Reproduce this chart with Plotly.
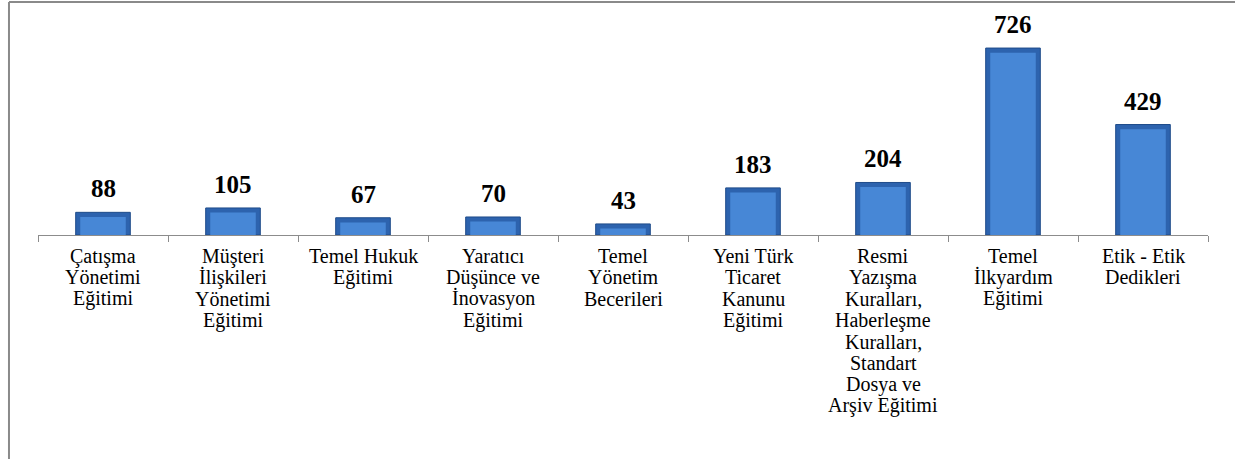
import plotly.graph_objects as go

categories = [
    "Çatışma<br>Yönetimi<br>Eğitimi",
    "Müşteri<br>İlişkileri<br>Yönetimi<br>Eğitimi",
    "Temel Hukuk<br>Eğitimi",
    "Yaratıcı<br>Düşünce ve<br>İnovasyon<br>Eğitimi",
    "Temel<br>Yönetim<br>Becerileri",
    "Yeni Türk<br>Ticaret<br>Kanunu<br>Eğitimi",
    "Resmi<br>Yazışma<br>Kuralları,<br>Haberleşme<br>Kuralları,<br>Standart<br>Dosya ve<br>Arşiv Eğitimi",
    "Temel<br>İlkyardım<br>Eğitimi",
    "Etik - Etik<br>Dedikleri",
]
values = [88, 105, 67, 70, 43, 183, 204, 726, 429]

# lighter inner face of each bar (bevel look)
bevel = 18
inner = [max(v - bevel, v * 0.55) for v in values]

fig = go.Figure()
fig.add_trace(go.Bar(
    x=categories, y=values, width=0.42,
    marker=dict(color="#2D63AE", line=dict(color="#1F4C8A", width=1)),
    hoverinfo="skip",
))
fig.add_trace(go.Bar(
    x=categories, y=inner, width=0.35,
    marker=dict(color="#4787D6", line=dict(width=0)),
    hoverinfo="skip",
))

for c, v in zip(categories, values):
    fig.add_annotation(
        x=c, y=v, text=f"<b>{v}</b>", showarrow=False,
        yanchor="bottom", yshift=8,
        font=dict(family="Liberation Serif", size=25, color="black"),
    )

# category labels, one line at a time for tighter line spacing
for c in categories:
    for i, line in enumerate(c.split("<br>")):
        fig.add_annotation(
            x=c, xref="x", y=0, yref="paper", text=line, showarrow=False,
            yanchor="middle", yshift=-(21 + i * 21.4),
            font=dict(family="Liberation Serif", size=20, color="black"),
        )

# chart frame (left and top edges)
fig.add_shape(type="line", xref="paper", yref="paper",
              x0=-0.0248, x1=-0.0248, y0=-1.2, y1=1.131,
              line=dict(color="#8A8A8A", width=2))
fig.add_shape(type="line", xref="paper", yref="paper",
              x0=-0.0248, x1=1.03, y0=1.131, y1=1.131,
              line=dict(color="#8A8A8A", width=2))

fig.update_layout(
    width=1235, height=459,
    margin=dict(l=38, r=27, t=29, b=224),
    plot_bgcolor="white", paper_bgcolor="white",
    barmode="overlay", showlegend=False,
    font=dict(family="Liberation Serif", size=20, color="black"),
    xaxis=dict(
        showline=True, linecolor="#8C8C8C", linewidth=1,
        ticks="outside", tickson="boundaries", ticklen=6, tickcolor="#8C8C8C",
        showgrid=False, showticklabels=False,
    ),
    yaxis=dict(visible=False, range=[0, 800]),
)

fig.write_html("out.html", config={"displayModeBar": False},
               post_script="document.body.style.margin='0px';")
